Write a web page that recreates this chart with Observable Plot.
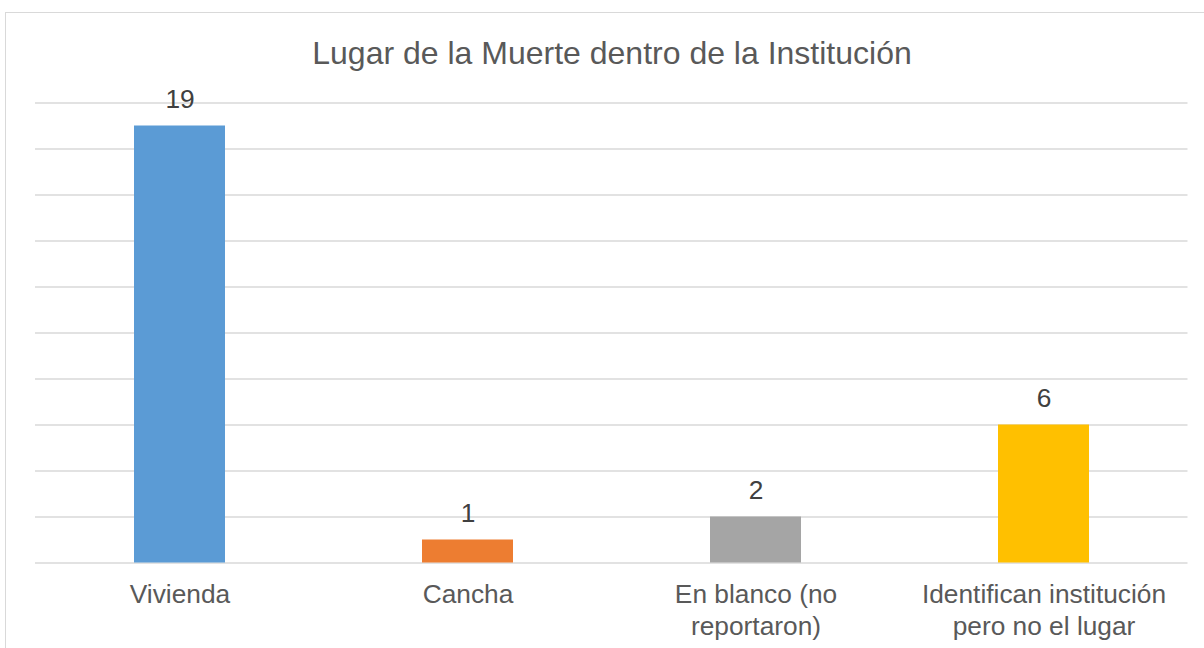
<!DOCTYPE html>
<html>
<head>
<meta charset="utf-8">
<script src="https://cdn.jsdelivr.net/npm/d3@7"></script>
<script src="https://cdn.jsdelivr.net/npm/@observablehq/plot@0.6"></script>
<style>
  html, body { margin: 0; padding: 0; background: #fff; }
  body { width: 1204px; height: 648px; position: relative; overflow: hidden; font-family: "Liberation Sans", Arial, sans-serif; }
  #frame { position: absolute; left: 5px; top: 12px; width: 1210px; height: 700px; border: 1.5px solid #d9d9d9; box-sizing: border-box; }
  #title { position: absolute; left: 0; top: 35px; width: 1224px; text-align: center; font-size: 32px; line-height: 36px; color: #595959; }
  #chart { position: absolute; left: 0; top: 0; }
</style>
</head>
<body>
<div id="frame"></div>
<div id="chart"></div>
<div id="title">Lugar de la Muerte dentro de la Institución</div>
<script>
const categories = ["Vivienda", "Cancha", "En blanco (no\nreportaron)", "Identifican institución\npero no el lugar"];
const values = [19, 1, 2, 6];
const colors = ["#5b9bd5", "#ed7d31", "#a5a5a5", "#ffc000"];
const yTicks = [0, 2, 4, 6, 8, 10, 12, 14, 16, 18, 20];

const data = categories.map((c, i) => ({category: c, value: values[i], color: colors[i]}));

const plot = Plot.plot({
  width: 1204,
  height: 648,
  marginLeft: 35,
  marginRight: 16.5,
  marginTop: 102.5,
  marginBottom: 85.5,
  style: {fontFamily: "Liberation Sans, Arial, sans-serif", color: "#595959", background: "transparent"},
  x: {domain: categories, paddingInner: 0.684, paddingOuter: 0.342, label: null},
  y: {domain: [0, 20], label: null},
  marks: [
    Plot.ruleY(yTicks, {stroke: "#d9d9d9", strokeWidth: 1.5}),
    Plot.barY(data, {x: "category", y: "value", fill: "color"}),
    Plot.text(data, {x: "category", y: "value", text: d => String(d.value), dy: -26, fontSize: 26.3, fill: "#404040"}),
    Plot.axisX({tickSize: 0, tickPadding: 17, fontSize: 26.3, lineHeight: 1.23, fill: "#595959"}),
    Plot.axisY({ticks: [], label: null})
  ]
});
document.getElementById("chart").appendChild(plot);
</script>
</body>
</html>
